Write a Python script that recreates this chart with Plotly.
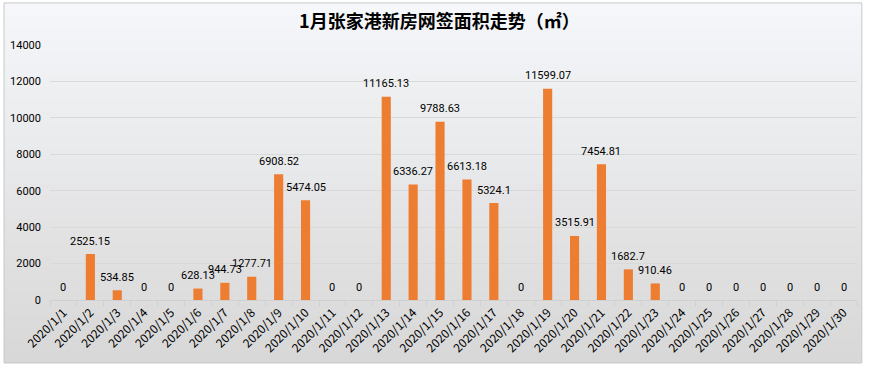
import plotly.graph_objects as go

dates = [f"2020/1/{d}" for d in range(1, 31)]
areas = [0, 2525.15, 534.85, 0, 0, 628.13, 944.73, 1277.71, 6908.52, 5474.05,
         0, 0, 11165.13, 6336.27, 9788.63, 6613.18, 5324.1, 0, 11599.07, 3515.91,
         7454.81, 1682.7, 910.46, 0, 0, 0, 0, 0, 0, 0]
title_text = "1月张家港新房网签面积走势（㎡）"
y_ticks = [0, 2000, 4000, 6000, 8000, 10000, 12000, 14000]

labels = [f"{v:.2f}".rstrip("0").rstrip(".") for v in areas]

font_family = "Noto Sans CJK SC, Noto Sans, DejaVu Sans"
label_family = "Roboto, Noto Sans"

fig = go.Figure()
fig.add_trace(go.Bar(
    x=dates, y=areas,
    marker=dict(color="#ED7D31", line=dict(width=0)),
    hoverinfo="x+y",
))

annotations = [
    dict(x=d, y=v, text=t, showarrow=False, xref="x", yref="y",
         xanchor="center", yanchor="middle", yshift=13,
         font=dict(size=11, color="#000000", family=label_family))
    for d, v, t in zip(dates, areas, labels)
]

# background gradient
shapes = []
n = 30
top_c = (245, 247, 250)
bot_c = (216, 216, 216)
y_top, y_bot = 1.165, -0.247
step = (y_top - y_bot) / n
for i in range(n):
    t = i / (n - 1)
    c = tuple(int(top_c[k] + (bot_c[k] - top_c[k]) * t) for k in range(3))
    y1 = y_top - i * step
    y0 = y1 - step - 0.002
    shapes.append(dict(type="rect", xref="paper", yref="paper",
                       x0=-0.057, x1=1.006, y0=max(y0, y_bot), y1=y1,
                       fillcolor=f"rgb{c}", line=dict(width=0), layer="below"))
shapes.append(dict(type="rect", xref="paper", yref="paper",
                   x0=-0.057, x1=1.006, y0=y_bot, y1=y_top,
                   fillcolor="rgba(0,0,0,0)", line=dict(width=1, color="#c8c8c8"), layer="above"))

fig.update_layout(
    width=870, height=368,
    margin=dict(l=50, r=13, t=45, b=68, autoexpand=False),
    paper_bgcolor="#ffffff",
    plot_bgcolor="rgba(0,0,0,0)",
    shapes=shapes,
    annotations=annotations,
    title=dict(text=f"<b>{title_text}</b>", x=0.505, xanchor="center",
               y=0.94, yanchor="middle",
               font=dict(size=18, color="#000000", family=font_family)),
    bargap=0.66,
    showlegend=False,
    font=dict(family=font_family, color="#000000"),
)
fig.update_xaxes(
    type="category", range=[-0.5, len(dates) - 0.5],
    tickangle=-45, tickfont=dict(size=12, color="#000000", family=font_family),
    showline=True, linecolor="#d0d0d0", linewidth=1,
    ticks="outside", tickson="boundaries", ticklen=5, tickcolor="#d0d0d0",
    showgrid=False, automargin=False,
)
fig.update_yaxes(
    range=[0, 14000], tickvals=y_ticks, ticktext=[str(v) for v in y_ticks],
    tickfont=dict(size=11, color="#000000", family=label_family),
    showgrid=True, gridcolor="#d9d9d9", gridwidth=1,
    zeroline=False, showline=False, ticks="", ticklabelstandoff=8,
    automargin=False,
)

fig.write_html("out.html", post_script="document.body.style.margin='0';",
               config={"displayModeBar": False})
